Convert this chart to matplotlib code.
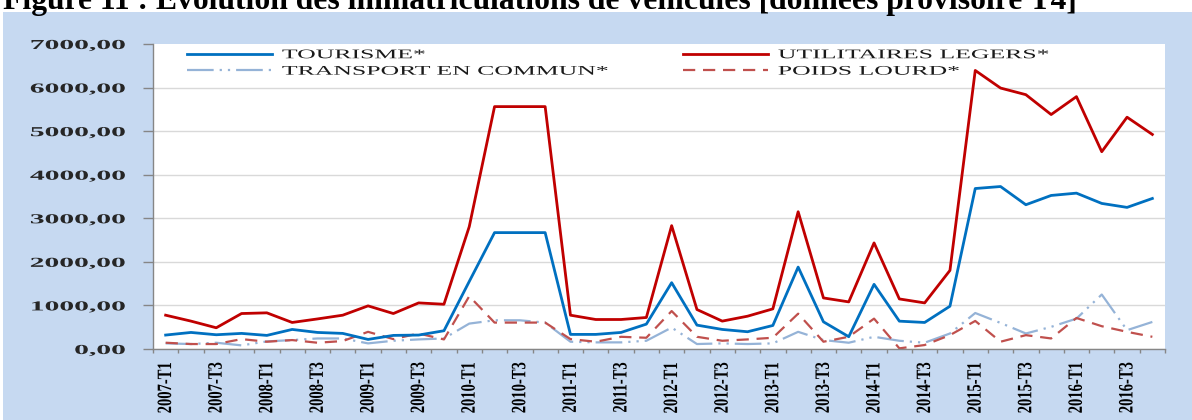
import numpy as np
import matplotlib
matplotlib.use('Agg')
import matplotlib.pyplot as plt
from matplotlib.patheffects import AbstractPathEffect
from matplotlib.transforms import Affine2D
from matplotlib.patches import Rectangle
from matplotlib.lines import Line2D
from matplotlib.font_manager import FontProperties

# ---------------- data ----------------
years = [2007, 2008, 2009, 2010, 2011, 2012, 2013, 2014, 2015, 2016]
quarter_names = ["T1", "T2", "T3", "T4"]
quarters = [f"{y}-{q}" for y in years for q in quarter_names]

tourisme = [320, 380, 327, 358, 312, 449, 380, 358, 220, 312,
            320, 419, 1550, 2671, 2671, 2671, 335, 335, 380, 571,
            1522, 548, 449, 396, 540, 1880, 624, 282, 1484, 639,
            609, 982, 3683, 3729, 3311, 3524, 3577, 3341, 3250, 3455]
utilitaires = [776, 640, 487, 814, 830, 609, 690, 776, 990, 814,
               1058, 1027, 2808, 5563, 5563, 5563, 776, 677, 677, 723,
               2831, 906, 640, 753, 921, 3150, 1172, 1081, 2435, 1149,
               1058, 1804, 6393, 5989, 5837, 5381, 5792, 4528, 5320, 4924]
transport = [129, 114, 144, 83, 174, 205, 242, 242, 129, 189,
             220, 242, 583, 659, 659, 606, 167, 152, 152, 189,
             492, 114, 129, 114, 129, 394, 205, 144, 280, 189,
             144, 356, 826, 598, 356, 508, 697, 1250, 432, 621]
poids = [144, 114, 114, 227, 167, 205, 144, 182, 394, 227,
         356, 220, 1212, 606, 606, 606, 227, 167, 280, 258,
         871, 280, 189, 220, 258, 811, 167, 280, 697, 15,
         91, 318, 644, 167, 318, 242, 712, 523, 394, 280]

series_labels = ["TOURISME*", "UTILITAIRES LEGERS*", "TRANSPORT EN COMMUN*", "POIDS LOURD*"]
y_ticks = [0, 1000, 2000, 3000, 4000, 5000, 6000, 7000]
y_tick_labels = ["0,00", "1000,00", "2000,00", "3000,00", "4000,00", "5000,00", "6000,00", "7000,00"]
title = "Figure 11 : Evolution des immatriculations de véhicules [données provisoire T4]"


# horizontal stretch of text glyphs (text stays a Text artist)
class HStretch(AbstractPathEffect):
    def __init__(self, sx, anchor="center"):
        super().__init__()
        self.sx = sx
        self.anchor = anchor

    def draw_path(self, renderer, gc, tpath, affine, rgbFace=None):
        ext = tpath.get_extents(affine)
        if self.anchor == "right":
            px = ext.x1
        elif self.anchor == "left":
            px = ext.x0
        else:
            px = 0.5 * (ext.x0 + ext.x1)
        t = affine + Affine2D().translate(-px, 0).scale(self.sx, 1.0).translate(px, 0)
        renderer.draw_path(gc, tpath, t, rgbFace)


W, H = 1192, 420
fig = plt.figure(figsize=(W / 100, H / 100), dpi=100)
fig.patch.set_facecolor("white")
fig.add_artist(Rectangle((3 / W, 0), 1, 1 - 12 / H, transform=fig.transFigure,
                         facecolor="#C6D9F1", edgecolor="none", zorder=0))

ax = fig.add_axes([153 / W, 1 - 349 / H, (1165 - 153) / W, (349 - 44) / H])
ax.set_facecolor("white")
x = np.arange(len(quarters))

c_tour, c_util, c_trans, c_poids = "#0070C0", "#C00000", "#95B3D7", "#C0504D"
ls_trans = (0, (12, 2.7, 1, 2.7, 1, 2.7))
ls_poids = (0, (5.5, 3.5))

ax.plot(x, tourisme, color=c_tour, lw=2.0, zorder=3)
ax.plot(x, utilitaires, color=c_util, lw=2.0, zorder=4)
ax.plot(x, transport, color=c_trans, lw=1.6, linestyle=ls_trans, zorder=2)
ax.plot(x, poids, color=c_poids, lw=1.6, linestyle=ls_poids, zorder=2.5)

ax.set_xlim(-0.5, len(quarters) - 0.5)
ax.set_ylim(0, 7000)

ax.set_yticks(y_ticks)
ax.set_yticklabels(y_tick_labels, fontfamily="Liberation Serif", fontweight="bold",
                   fontsize=9.9, color="#262626")
ax.yaxis.grid(True, color="#D9D9D9", lw=1)
ax.set_axisbelow(True)
ax.yaxis.get_gridlines()[-1].set_visible(False)

for s in ["top", "right"]:
    ax.spines[s].set_visible(False)
for s in ["left", "bottom"]:
    ax.spines[s].set_color("#868686")
    ax.spines[s].set_linewidth(1)

ax.set_xticks(x[::2])
ax.set_xticklabels(quarters[::2], rotation=90, fontfamily="Liberation Serif",
                   fontweight="bold", fontsize=10.5, color="black", va="top", ha="center")
ax.set_xticks(np.arange(-0.5, len(quarters), 1), minor=True)
ax.tick_params(axis="x", which="major", length=0, pad=9.5)
ax.tick_params(axis="x", which="minor", length=3, color="#868686", width=1)
ax.tick_params(axis="y", length=7, color="#868686", width=1, pad=13)

for lbl in ax.get_yticklabels():
    lbl.set_path_effects([HStretch(2.15, anchor="right")])
for lbl in ax.get_xticklabels():
    lbl.set_path_effects([HStretch(1.4, anchor="center")])

# legends (two columns as two legends)
lp = FontProperties(family="Liberation Serif", size=9.5)
h_tour = Line2D([], [], color=c_tour, lw=2.0)
h_util = Line2D([], [], color=c_util, lw=2.0)
h_trans = Line2D([], [], color=c_trans, lw=1.6, linestyle=ls_trans)
h_poids = Line2D([], [], color=c_poids, lw=1.6, linestyle=ls_poids)
common = dict(loc="upper left", bbox_transform=fig.transFigure, frameon=False,
              borderpad=0, handlelength=6.45, handletextpad=0.76, labelspacing=0.32,
              prop=lp, borderaxespad=0)
leg1 = ax.legend([h_tour, h_trans], [series_labels[0], series_labels[2]],
                 bbox_to_anchor=(187 / W, 1 - 49 / H), **common)
ax.add_artist(leg1)
leg2 = ax.legend([h_util, h_poids], [series_labels[1], series_labels[3]],
                 bbox_to_anchor=(683 / W, 1 - 49 / H), **common)
for lg in (leg1, leg2):
    for t in lg.get_texts():
        t.set_color("#1a1a1a")
        t.set_path_effects([HStretch(1.95, anchor="left")])

# title (top partially cut as in the reference)
tt = fig.text(3 / W, 1 - 8.5 / H, title, fontsize=22, fontweight="bold",
              fontfamily="Liberation Serif", va="baseline", ha="left", zorder=5)
fig.canvas.draw()
w = tt.get_window_extent().width
tt.set_fontsize(22 * (1075 - 3) / w)

fig.savefig("out.png", dpi=100)
